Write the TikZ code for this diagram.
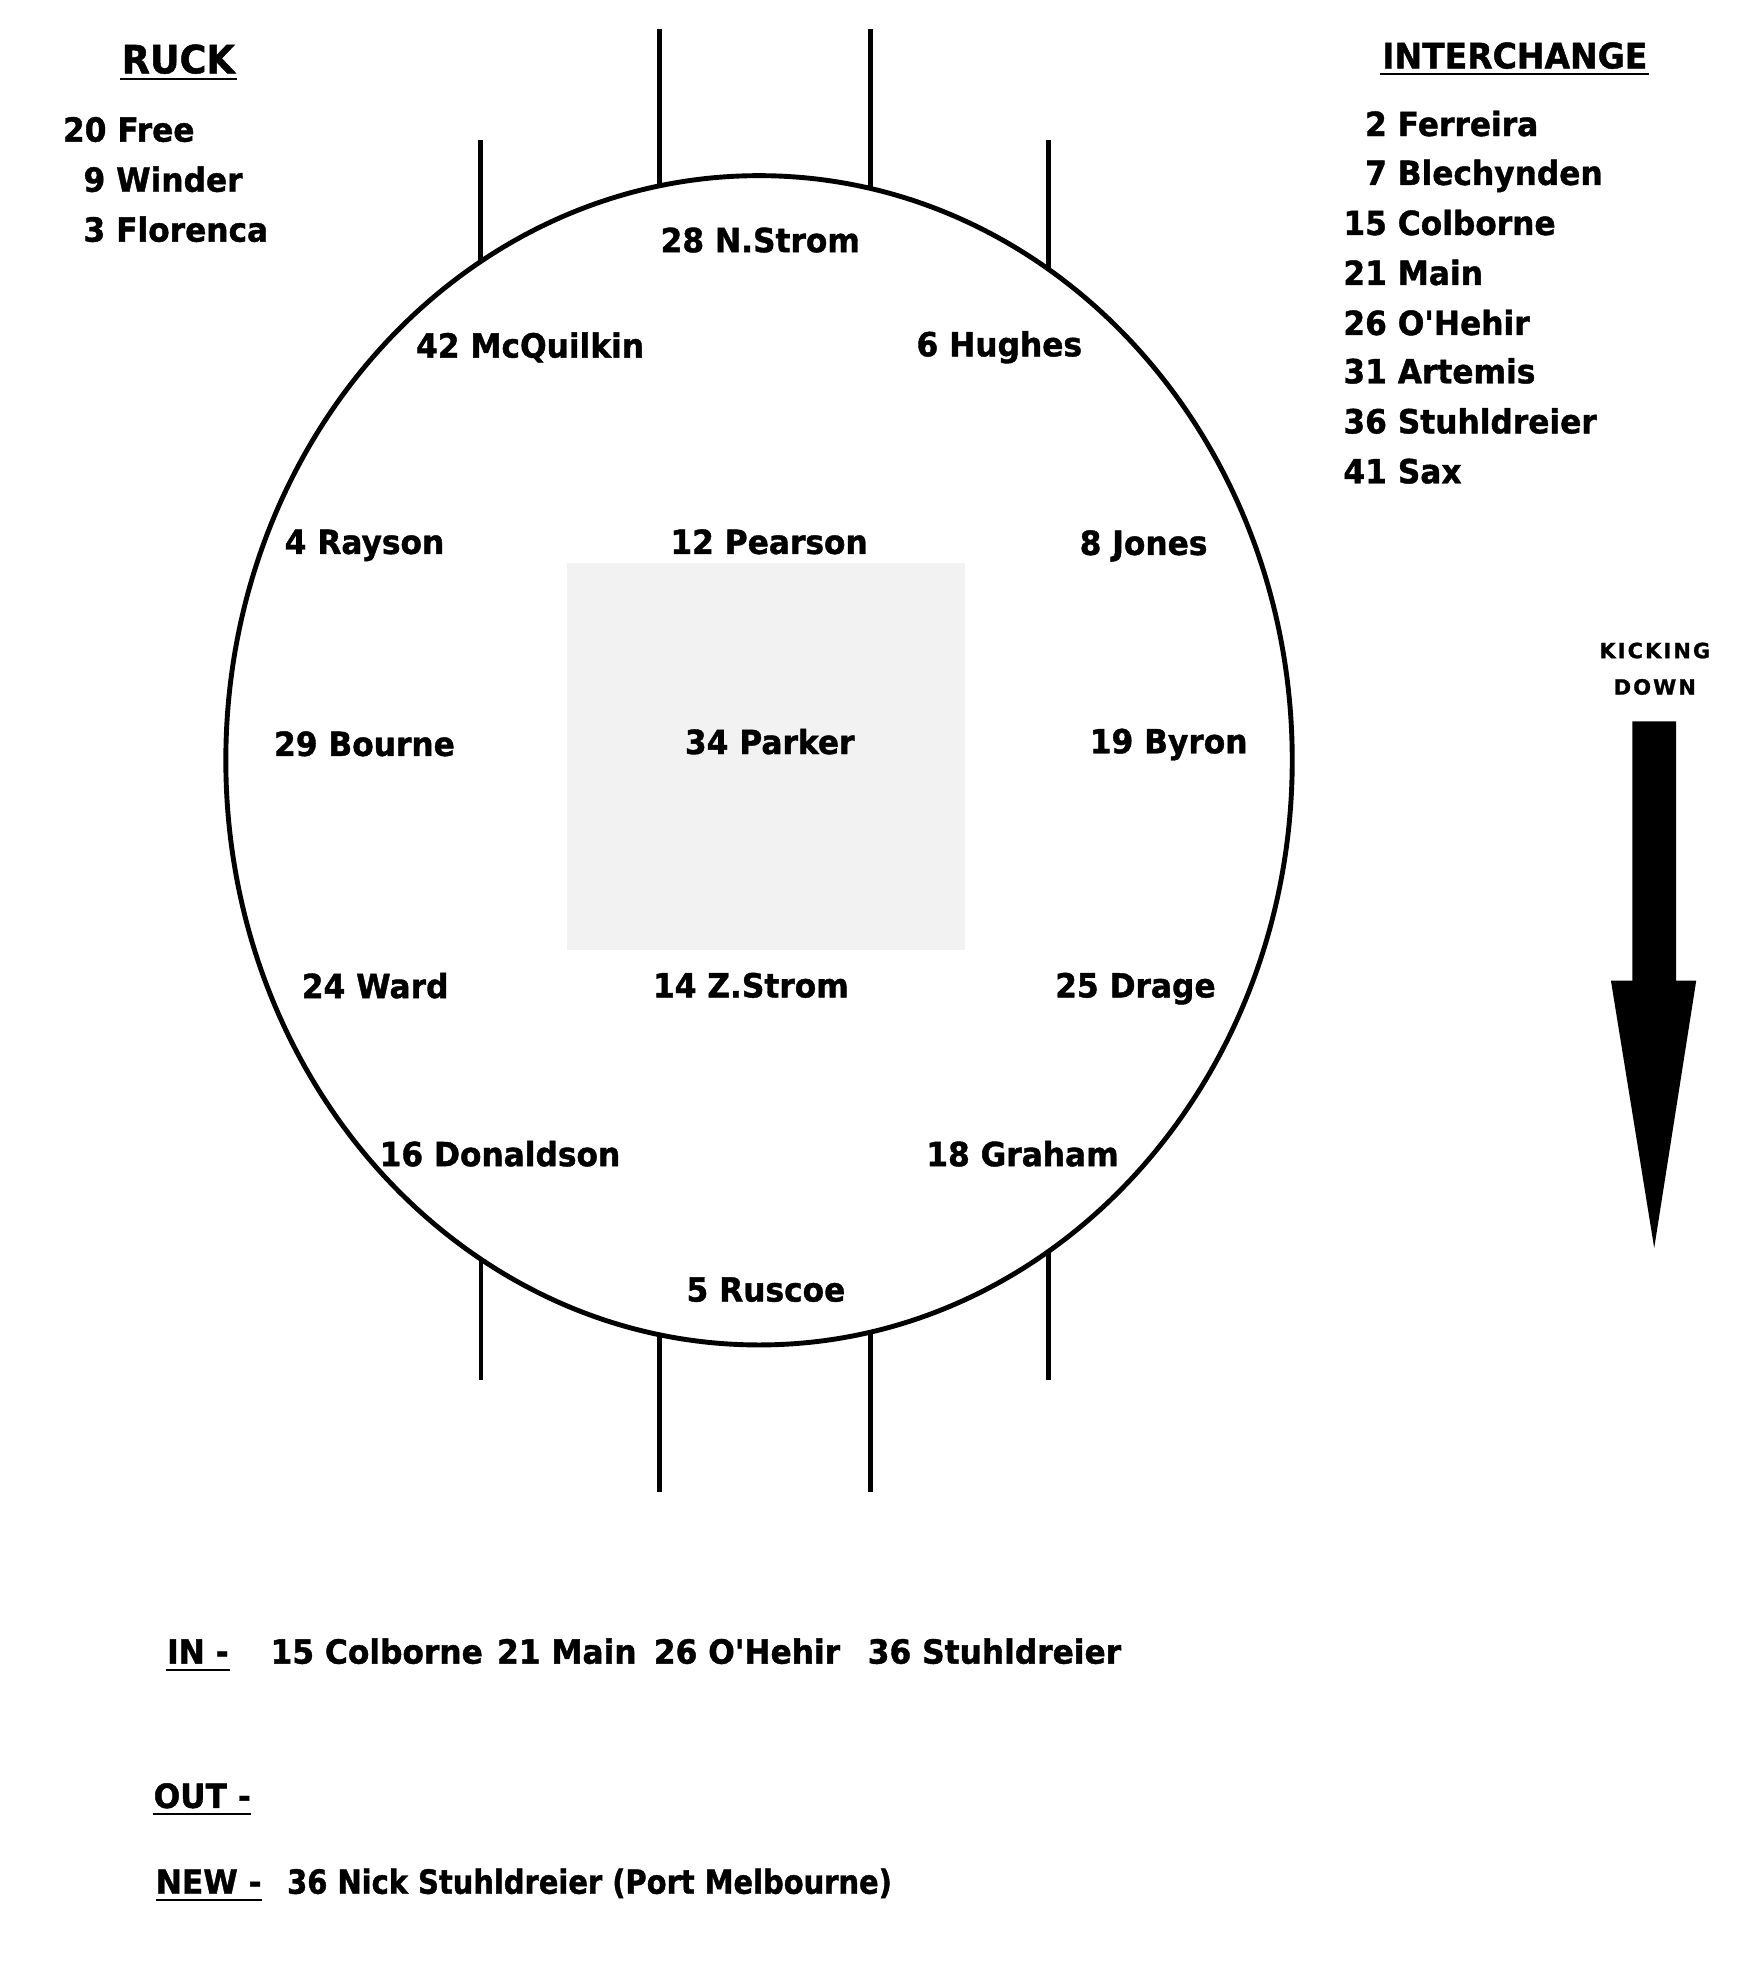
\documentclass[tikz,border=0pt]{standalone}
\usepackage{fontspec}
\newfontfamily\pf{DejaVu Sans}[FakeStretch=0.94,FakeBold=1.2]
\newfontfamily\pfn{DejaVu Sans}[FakeStretch=0.87,FakeBold=1.2]
\newfontfamily\kf{DejaVu Sans}[LetterSpace=10,FakeBold=1.2]
\begin{document}
\begin{tikzpicture}[x=1pt,y=-1pt,
  txt/.style={inner sep=0pt, font=\pf\bfseries\fontsize{26.5}{30}\selectfont},
  player/.style={txt, anchor=base},
  listitem/.style={txt, anchor=base west},
  titletext/.style={inner sep=0pt, anchor=base, font=\pf\bfseries\fontsize{#1}{#1}\selectfont},
  kicktext/.style={inner sep=0pt, anchor=base, font=\kf\bfseries\fontsize{16.7}{18}\selectfont},
  goalpost/.style={line width=3.7pt, line cap=butt},
  boundary/.style={line width=3.9pt},
  ulinestyle/.style={line width=1.6pt}]

\fill[white] (0,0) rectangle (1390,1575);
\useasboundingbox (0,0) rectangle (1390,1575);

% centre square
\fill[black!5] (452,449) rectangle (769.5,757);

% ground
\draw[boundary] (605,606) ellipse [x radius=425pt, y radius=466pt];

% goal posts, top
\draw[goalpost] (525.5,23.4) -- (525.5,148);
\draw[goalpost] (694,23.4) -- (694,150);
\draw[goalpost] (382.8,111.6) -- (382.8,209);
\draw[goalpost] (835.5,111.6) -- (835.5,214.5);
% goal posts, bottom
\draw[goalpost] (525.5,1064) -- (525.5,1189);
\draw[goalpost] (694,1062) -- (694,1189);
\draw[goalpost] (383.5,1003) -- (383.5,1100);
\draw[goalpost] (835.5,997.5) -- (835.5,1100);

% kicking arrow
\fill (1301,575) -- (1336,575) -- (1336,781.6) -- (1352,781.6) -- (1318.5,994.7)
      -- (1284,781.6) -- (1301,781.6) -- cycle;
\node[kicktext] (kick) at (1319,524.6) {KICKING};
\node[kicktext] (down) at (1319,553.6) {DOWN};

% ruck
\node[titletext=31] (ruck) at (142.1,58.4) {RUCK};
\draw[ulinestyle] ([xshift=-1.5pt,yshift=-4.6pt]ruck.base west) -- ([xshift=1.5pt,yshift=-4.6pt]ruck.base east);
\node[listitem] (free) at (50,112.9) {20 Free};
\node[listitem] (winder) at (66.4,152.8) {9 Winder};
\node[listitem] (florenca) at (66.4,192.6) {3 Florenca};

% interchange
\node[titletext=28] (inter) at (1207.4,54.5) {INTERCHANGE};
\draw[ulinestyle] ([xshift=-1.3pt,yshift=-4.5pt]inter.base west) -- ([xshift=1.3pt,yshift=-4.5pt]inter.base east);
\node[listitem] (ferreira) at (1087.9,108.4) {2 Ferreira};
\node[listitem] (blech) at (1087.9,147.4) {7 Blechynden};
\node[listitem] (colborne) at (1070.6,187.3) {15 Colborne};
\node[listitem] (main) at (1070.6,227.1) {21 Main};
\node[listitem] (ohehir) at (1070.6,267) {26 O'Hehir};
\node[listitem] (artemis) at (1070.6,305.5) {31 Artemis};
\node[listitem] (stuhl) at (1070.6,345.4) {36 Stuhldreier};
\node[listitem] (sax) at (1070.6,385.2) {41 Sax};

% players on the ground
\node[player] (nstrom) at (606,201) {28 N.Strom};
\node[player] (mcq) at (422.5,285) {42 McQuilkin};
\node[player] (hughes) at (796.5,284) {6 Hughes};
\node[player] (rayson) at (290.5,441.5) {4 Rayson};
\node[player] (pearson) at (613,441.5) {12 Pearson};
\node[player] (jones) at (911.5,442.3) {8 Jones};
\node[player] (bourne) at (290.5,602.5) {29 Bourne};
\node[player] (parker) at (613.5,601) {34 Parker};
\node[player] (byron) at (931.5,600.4) {19 Byron};
\node[player] (ward) at (299,795.5) {24 Ward};
\node[player] (zstrom) at (598.5,795) {14 Z.Strom};
\node[player] (drage) at (905,795) {25 Drage};
\node[player] (donaldson) at (398.5,929.5) {16 Donaldson};
\node[player] (graham) at (815,929.5) {18 Graham};
\node[player] (ruscoe) at (610.5,1037.4) {5 Ruscoe};

% changes
\node[listitem] (inlbl) at (133,1326) {IN -};
\draw[ulinestyle] ([xshift=-0.5pt,yshift=-5pt]inlbl.base west) -- ([xshift=0.5pt,yshift=-5pt]inlbl.base east);
\node[listitem] (in1) at (215.5,1326) {15 Colborne};
\node[listitem] (in2) at (396,1326) {21 Main};
\node[listitem] (in3) at (521,1326) {26 O'Hehir};
\node[listitem] (in4) at (691.5,1326) {36 Stuhldreier};

\node[listitem] (outlbl) at (122.3,1441) {OUT -};
\draw[ulinestyle] ([yshift=-4.8pt]outlbl.base west) -- ([yshift=-4.8pt]outlbl.base east);

\node[listitem] (newlbl) at (124,1509.4) {NEW -};
\draw[ulinestyle] ([yshift=-4.8pt]newlbl.base west) -- ([yshift=-4.8pt]newlbl.base east);
\node[listitem, font=\pfn\bfseries\fontsize{26.5}{30}\selectfont] (new1) at (228.7,1509.4) {36 Nick Stuhldreier (Port Melbourne)};
\end{tikzpicture}
\end{document}
